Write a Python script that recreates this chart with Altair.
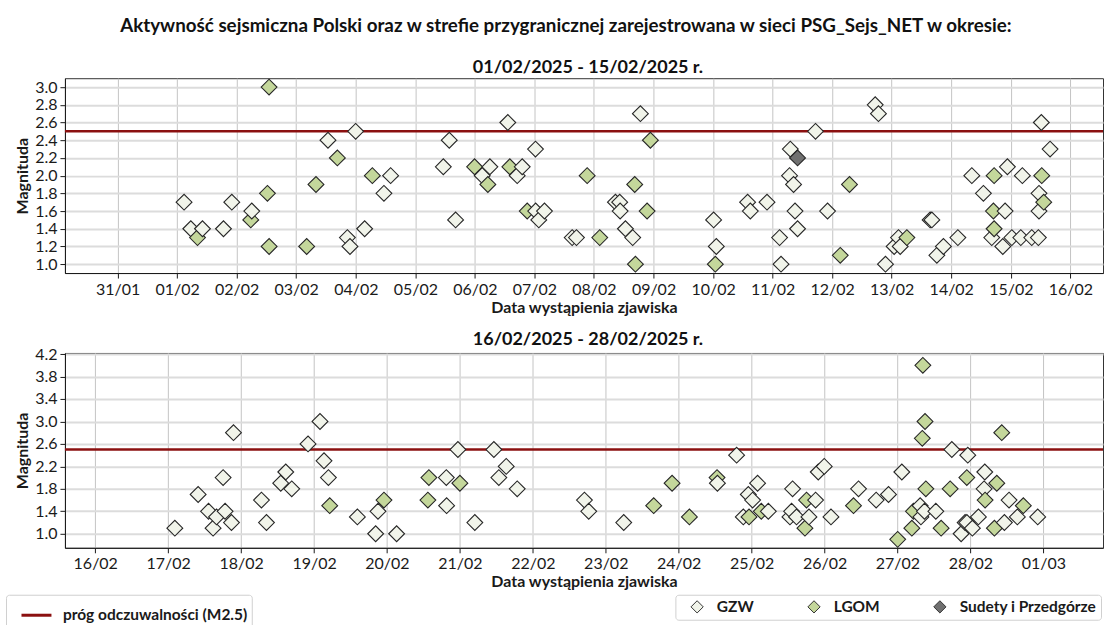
import altair as alt
import pandas as pd

FONT = "Lato"
TITLE = "Aktywność sejsmiczna Polski oraz w strefie przygranicznej zarejestrowana w sieci PSG_Sejs_NET w okresie:"
SUB1 = "01/02/2025 - 15/02/2025 r."
SUB2 = "16/02/2025 - 28/02/2025 r."
X_TITLE = "Data wystąpienia zjawiska"
Y_TITLE = "Magnituda"
REGIONS = ["GZW", "LGOM", "Sudety i Przedgórze"]
REGION_COLORS = ["#f1f4ea", "#c4d79b", "#707070"]
THRESHOLD = [2.5]
THRESHOLD_LABEL = ["próg odczuwalności (M2.5)"]
THRESHOLD_COLOR = ["#8b1010"]

# ---- panel 1: 01/02 - 15/02 ----
top_times = [
    "2025-02-01T02:48", "2025-02-01T05:31", "2025-02-01T08:13", "2025-02-01T10:13", "2025-02-01T18:41",
    "2025-02-01T22:02", "2025-02-02T05:41", "2025-02-02T06:05", "2025-02-02T13:03", "2025-02-02T12:24",
    "2025-02-02T13:05", "2025-02-03T04:13", "2025-02-03T07:58", "2025-02-03T12:48", "2025-02-03T16:35",
    "2025-02-03T20:37", "2025-02-03T21:40", "2025-02-03T23:57", "2025-02-04T03:35", "2025-02-04T06:41",
    "2025-02-04T11:21", "2025-02-04T14:03", "2025-02-05T11:17", "2025-02-05T13:41", "2025-02-05T16:14",
    "2025-02-05T23:53", "2025-02-06T02:58", "2025-02-06T06:03", "2025-02-06T05:14", "2025-02-06T13:17",
    "2025-02-06T14:05", "2025-02-06T19:05", "2025-02-06T17:04", "2025-02-07T00:26", "2025-02-06T21:06",
    "2025-02-07T00:30", "2025-02-07T04:03", "2025-02-07T01:46", "2025-02-07T15:13", "2025-02-07T16:57",
    "2025-02-07T21:16", "2025-02-08T02:20", "2025-02-08T08:40", "2025-02-08T10:23", "2025-02-08T10:33",
    "2025-02-08T12:41", "2025-02-08T15:37", "2025-02-08T16:26", "2025-02-08T16:43", "2025-02-08T18:43",
    "2025-02-08T22:45", "2025-02-08T21:25", "2025-02-10T00:14", "2025-02-10T01:19", "2025-02-10T00:55",
    "2025-02-10T13:56", "2025-02-10T15:01", "2025-02-10T21:45", "2025-02-11T02:49", "2025-02-11T03:24",
    "2025-02-11T07:08", "2025-02-11T10:04", "2025-02-11T06:50", "2025-02-11T08:27", "2025-02-11T09:02",
    "2025-02-11T10:04", "2025-02-11T17:18", "2025-02-11T22:09", "2025-02-12T03:16", "2025-02-12T07:00",
    "2025-02-12T17:21", "2025-02-12T18:40", "2025-02-12T21:30", "2025-02-13T01:00", "2025-02-13T02:44",
    "2025-02-13T03:26", "2025-02-13T06:07", "2025-02-13T15:30", "2025-02-13T16:11", "2025-02-13T18:12",
    "2025-02-13T20:51", "2025-02-14T02:40", "2025-02-14T08:18", "2025-02-14T12:58", "2025-02-14T17:17",
    "2025-02-14T17:00", "2025-02-14T17:17", "2025-02-14T16:20", "2025-02-14T20:47", "2025-02-14T21:42",
    "2025-02-14T22:38", "2025-02-15T00:25", "2025-02-15T04:02", "2025-02-15T04:40", "2025-02-15T08:27",
    "2025-02-15T11:07", "2025-02-15T11:22", "2025-02-15T11:22", "2025-02-15T12:29", "2025-02-15T13:17",
    "2025-02-15T12:19", "2025-02-15T15:50",
]
top_mags = [
    1.7, 1.4, 1.3, 1.4, 1.4, 1.7, 1.5, 1.6, 3.0, 1.8,
    1.2, 1.2, 1.9, 2.4, 2.2, 1.3, 1.2, 2.5, 1.4, 2.0,
    1.8, 2.0, 2.1, 2.4, 1.5, 2.1, 2.0, 2.1, 1.9, 2.6,
    2.1, 2.1, 2.0, 2.3, 1.6, 1.6, 1.6, 1.5, 1.3, 1.3,
    2.0, 1.3, 1.7, 1.7, 1.6, 1.4, 1.3, 1.9, 1.0, 2.7,
    2.4, 1.6, 1.5, 1.2, 1.0, 1.7, 1.6, 1.7, 1.3, 1.0,
    2.3, 2.2, 2.0, 1.9, 1.6, 1.4, 2.5, 1.6, 1.1, 1.9,
    2.8, 2.7, 1.0, 1.2, 1.3, 1.2, 1.3, 1.5, 1.5, 1.1,
    1.2, 1.3, 2.0, 1.8, 2.0, 1.6, 1.4, 1.3, 1.2, 1.6,
    2.1, 1.3, 1.3, 2.0, 1.3, 1.3, 1.6, 1.8, 2.0, 1.7,
    2.6, 2.3,
]
top_regions = [
    "GZW", "GZW", "LGOM", "GZW", "GZW", "GZW", "LGOM", "GZW", "LGOM", "LGOM",
    "LGOM", "LGOM", "LGOM", "GZW", "LGOM", "GZW", "GZW", "GZW", "GZW", "LGOM",
    "GZW", "GZW", "GZW", "GZW", "GZW", "LGOM", "GZW", "GZW", "LGOM", "GZW",
    "LGOM", "GZW", "GZW", "GZW", "LGOM", "GZW", "GZW", "GZW", "GZW", "GZW",
    "LGOM", "LGOM", "GZW", "GZW", "GZW", "GZW", "GZW", "LGOM", "LGOM", "GZW",
    "LGOM", "LGOM", "GZW", "GZW", "LGOM", "GZW", "GZW", "GZW", "GZW", "GZW",
    "GZW", "Sudety i Przedgórze", "GZW", "GZW", "GZW", "GZW", "GZW", "GZW", "LGOM", "LGOM",
    "GZW", "GZW", "GZW", "GZW", "GZW", "GZW", "LGOM", "GZW", "GZW", "GZW",
    "GZW", "GZW", "GZW", "GZW", "LGOM", "LGOM", "LGOM", "GZW", "GZW", "GZW",
    "GZW", "GZW", "GZW", "GZW", "GZW", "GZW", "GZW", "GZW", "LGOM", "LGOM",
    "GZW", "GZW",
]

# ---- panel 2: 16/02 - 28/02 ----
bottom_times = [
    "2025-02-17T02:12", "2025-02-17T09:52", "2025-02-17T13:17", "2025-02-17T14:47", "2025-02-17T15:55",
    "2025-02-17T18:05", "2025-02-17T18:44", "2025-02-17T20:50", "2025-02-17T21:30", "2025-02-18T06:42",
    "2025-02-18T08:21", "2025-02-18T13:03", "2025-02-18T14:42", "2025-02-18T16:40", "2025-02-18T22:02",
    "2025-02-19T01:58", "2025-02-19T03:17", "2025-02-19T04:44", "2025-02-19T05:10", "2025-02-19T14:16",
    "2025-02-19T20:17", "2025-02-19T21:03", "2025-02-19T23:01", "2025-02-20T03:11", "2025-02-20T13:48",
    "2025-02-20T13:28", "2025-02-20T19:32", "2025-02-20T19:38", "2025-02-20T23:21", "2025-02-21T00:00",
    "2025-02-21T04:55", "2025-02-21T11:11", "2025-02-21T15:15", "2025-02-21T12:49", "2025-02-21T18:52",
    "2025-02-22T16:59", "2025-02-22T18:24", "2025-02-23T05:55", "2025-02-23T15:47", "2025-02-23T21:50",
    "2025-02-24T03:32", "2025-02-24T12:37", "2025-02-24T12:45", "2025-02-24T19:04", "2025-02-24T21:16",
    "2025-02-24T22:55", "2025-02-24T23:09", "2025-02-25T00:20", "2025-02-25T01:58", "2025-02-25T03:11",
    "2025-02-25T05:30", "2025-02-25T12:37", "2025-02-25T13:09", "2025-02-25T13:29", "2025-02-25T14:47",
    "2025-02-25T17:33", "2025-02-25T18:04", "2025-02-25T18:52", "2025-02-25T21:03", "2025-02-25T21:56",
    "2025-02-25T23:54", "2025-02-26T02:07", "2025-02-26T09:32", "2025-02-26T11:11", "2025-02-26T16:59",
    "2025-02-26T21:03", "2025-02-27T00:04", "2025-02-27T01:26", "2025-02-27T04:44", "2025-02-27T05:15",
    "2025-02-27T07:28", "2025-02-27T07:43", "2025-02-27T08:53", "2025-02-27T08:21", "2025-02-27T09:04",
    "2025-02-27T08:10", "2025-02-27T09:20", "2025-02-27T12:37", "2025-02-27T14:22", "2025-02-27T17:20",
    "2025-02-27T17:53", "2025-02-27T20:57", "2025-02-27T22:15", "2025-02-27T22:50", "2025-02-27T22:49",
    "2025-02-27T23:08", "2025-02-28T00:39", "2025-02-28T02:38", "2025-02-28T04:30", "2025-02-28T04:44",
    "2025-02-28T04:50", "2025-02-28T07:54", "2025-02-28T08:41", "2025-02-28T10:19", "2025-02-28T11:11",
    "2025-02-28T12:43", "2025-02-28T15:27", "2025-02-28T17:25", "2025-02-28T22:09",
]
bottom_mags = [
    1.1, 1.7, 1.4, 1.1, 1.3, 2.0, 1.4, 1.2, 2.8, 1.6,
    1.2, 1.9, 2.1, 1.8, 2.6, 3.0, 2.3, 2.0, 1.5, 1.3,
    1.0, 1.4, 1.6, 1.0, 2.0, 1.6, 2.0, 1.5, 2.5, 1.9,
    1.2, 2.5, 2.2, 2.0, 1.8, 1.6, 1.4, 1.2, 1.5, 1.9,
    1.3, 2.0, 1.9, 2.4, 1.3, 1.7, 1.3, 1.6, 1.9, 1.4,
    1.4, 1.3, 1.4, 1.8, 1.3, 1.1, 1.6, 1.3, 1.6, 2.1,
    2.2, 1.3, 1.5, 1.8, 1.6, 1.7, 0.9, 2.1, 1.1, 1.4,
    1.5, 1.3, 1.4, 4.0, 3.0, 2.7, 1.8, 1.4, 1.1, 1.8,
    2.5, 1.0, 1.2, 1.2, 2.0, 2.4, 1.1, 1.3, 1.8, 2.1,
    1.6, 1.1, 1.9, 2.8, 1.2, 1.6, 1.3, 1.5, 1.3,
]
bottom_regions = [
    "GZW", "GZW", "GZW", "GZW", "GZW", "GZW", "GZW", "GZW", "GZW", "GZW",
    "GZW", "GZW", "GZW", "GZW", "GZW", "GZW", "GZW", "GZW", "LGOM", "GZW",
    "GZW", "GZW", "LGOM", "GZW", "LGOM", "LGOM", "GZW", "GZW", "GZW", "LGOM",
    "GZW", "GZW", "GZW", "GZW", "GZW", "GZW", "GZW", "GZW", "LGOM", "LGOM",
    "LGOM", "LGOM", "GZW", "GZW", "GZW", "GZW", "LGOM", "GZW", "GZW", "LGOM",
    "GZW", "GZW", "GZW", "GZW", "GZW", "LGOM", "LGOM", "GZW", "GZW", "GZW",
    "GZW", "GZW", "LGOM", "GZW", "GZW", "GZW", "LGOM", "GZW", "LGOM", "LGOM",
    "GZW", "GZW", "GZW", "LGOM", "LGOM", "LGOM", "LGOM", "GZW", "LGOM", "LGOM",
    "GZW", "GZW", "GZW", "GZW", "LGOM", "GZW", "GZW", "GZW", "GZW", "GZW",
    "LGOM", "LGOM", "LGOM", "LGOM", "GZW", "GZW", "GZW", "LGOM", "GZW",
]

top_ticks = ["2025-01-31"] + [f"2025-02-{d:02d}" for d in range(1, 17)]
bottom_ticks = [f"2025-02-{d:02d}" for d in range(16, 29)] + ["2025-03-01"]
top_y_ticks = [1.0, 1.2, 1.4, 1.6, 1.8, 2.0, 2.2, 2.4, 2.6, 2.8, 3.0]
bottom_y_ticks = [1.0, 1.4, 1.8, 2.2, 2.6, 3.0, 3.4, 3.8, 4.2]
top_x_domain = ["2025-01-30T02:47", "2025-02-16T13:10"]
bottom_x_domain = ["2025-02-15T14:02", "2025-03-01T19:38"]
top_y_domain = [0.9, 3.1]
bottom_y_domain = [0.75, 4.22]

W, H = 1039, 195


def to_dt(s):
    t = pd.Timestamp(s)
    return alt.DateTime(year=t.year, month=t.month, date=t.day, hours=t.hour, minutes=t.minute)


def panel(times, mags, regions, xdom, xticks, ydom, yticks, subtitle, sub_offset, show_legend):
    df = pd.DataFrame({"czas": times, "mag": mags, "region": regions})
    df["ts"] = pd.to_datetime(df["czas"])
    df = df.sort_values("ts").drop(columns="ts")
    thr = pd.DataFrame({"label": THRESHOLD_LABEL, "value": THRESHOLD})

    x_axis = alt.Axis(
        values=[to_dt(v) for v in xticks], format="%d/%m", labelAngle=0,
        title=X_TITLE, gridColor="#c4c4c4", gridWidth=1, tickSize=5,
        labelPadding=3, titlePadding=2, labelFlush=False, labelOverlap=False,
    )
    y_axis = alt.Axis(
        values=yticks, format=".1f", title=Y_TITLE, gridColor="#dcdcdc", gridWidth=2,
        tickSize=5, labelPadding=3, titlePadding=4, labelOverlap=False,
    )
    y_scale = alt.Scale(domain=ydom, nice=False, zero=False)

    if show_legend:
        fill_legend = alt.Legend(
            title=None, orient="none", legendX=611, legendY=242, direction="horizontal",
            symbolType="diamond", symbolSize=150, symbolStrokeColor="#333333",
            symbolStrokeWidth=1, symbolOpacity=1, labelFont=FONT, labelFontSize=15.5,
            labelFontWeight="bold", labelColor="#1a1a1a", columnPadding=42,
            strokeColor="#d0d0d0", padding=4, cornerRadius=3, fillColor="white",
            labelOffset=12, labelLimit=300, symbolOffset=10,
        )
        stroke_legend = alt.Legend(
            title=None, orient="none", legendX=-59, legendY=242, symbolType="stroke",
            symbolSize=900, symbolStrokeWidth=3, labelFont=FONT, labelFontSize=15.5,
            labelFontWeight="bold", labelColor="#1a1a1a", strokeColor="#d0d0d0",
            padding=4, cornerRadius=3, fillColor="white", labelOffset=10, labelLimit=300,
            symbolOffset=10,
        )
    else:
        fill_legend = None
        stroke_legend = None

    points = alt.Chart(df).mark_point(
        shape="diamond", filled=True, size=250, stroke="#262626", strokeWidth=1.1, opacity=1
    ).encode(
        x=alt.X("czas:T", scale=alt.Scale(domain=[to_dt(v) for v in xdom], nice=False), axis=x_axis),
        y=alt.Y("mag:Q", scale=y_scale, axis=y_axis),
        fill=alt.Fill("region:N", scale=alt.Scale(domain=REGIONS, range=REGION_COLORS), legend=fill_legend),
    )

    rule = alt.Chart(thr).mark_rule(strokeWidth=2.5).encode(
        y=alt.Y("value:Q", scale=y_scale, axis=y_axis),
        stroke=alt.Stroke("label:N", scale=alt.Scale(domain=THRESHOLD_LABEL, range=THRESHOLD_COLOR), legend=stroke_legend),
    )

    return alt.layer(rule, points).properties(
        width=W, height=H,
        title=alt.TitleParams(subtitle, font=FONT, fontSize=18, fontWeight="bold",
                              anchor="middle", offset=sub_offset, dx=4, frame="group", color="#111111"),
    )


top = panel(top_times, top_mags, top_regions, top_x_domain, top_ticks,
            top_y_domain, top_y_ticks, SUB1, 0, False)
bottom = panel(bottom_times, bottom_mags, bottom_regions, bottom_x_domain, bottom_ticks,
               bottom_y_domain, bottom_y_ticks, SUB2, -3, True)

chart = alt.vconcat(top, bottom, spacing=80, bounds="flush").resolve_scale(
    x="independent", y="independent", fill="independent", stroke="independent"
).properties(
    title=alt.TitleParams(TITLE, font=FONT, fontSize=18.8, fontWeight="bold",
                          anchor="middle", offset=23, dx=11, color="#111111"),
    padding={"left": 5, "top": 16, "right": 0, "bottom": 0},
    background="white",
).configure_axis(
    labelFont=FONT, titleFont=FONT, labelFontSize=16, titleFontSize=16,
    titleFontWeight="bold", labelColor="#1a1a1a", titleColor="#1a1a1a",
    domainColor="#1a1a1a", tickColor="#1a1a1a", domainWidth=1,
).configure_view(stroke="#333333", strokeWidth=1)

chart.save("out.html", embed_options={"renderer": "svg", "actions": False})
